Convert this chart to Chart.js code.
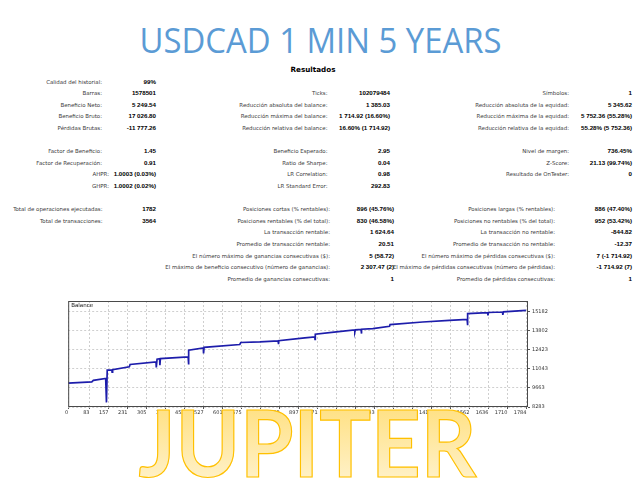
<!DOCTYPE html>
<html>
<head>
<meta charset="utf-8">
<script src="https://cdn.jsdelivr.net/npm/chart.js@4"></script>
<style>
  html, body { margin: 0; padding: 0; background: #fff; }
  #page { position: relative; width: 640px; height: 480px; overflow: hidden; }
  #base, #over { position: absolute; left: 0; top: 0; }
  #over { pointer-events: none; }
  #balance { position: absolute; left: 64px; top: 296px; }
</style>
</head>
<body>
<div id="page">
  <svg id="base" width="640" height="480"></svg>
  <canvas id="balance" width="500" height="124"></canvas>
  <svg id="over" width="640" height="480">
    <defs>
      <linearGradient id="jg" x1="0" y1="0" x2="0" y2="1">
        <stop offset="0" stop-color="#ffdc70"/>
        <stop offset="1" stop-color="#fff5d8"/>
      </linearGradient>
    </defs>
    <text x="307.5" y="477" text-anchor="middle" font-family="Lato" font-weight="700"
          font-size="92" textLength="338" lengthAdjust="spacingAndGlyphs"
          fill="url(#jg)" stroke="#ffc000" stroke-width="1.2">JUPITER</text>
  </svg>
</div>
<script>
// balance curve (deal number -> balance)
const dealNo = [0, 92, 98, 146, 149, 152, 170, 171, 173, 238, 241, 342, 343, 346, 356, 357, 359,
  467, 468, 470, 526, 527, 529, 668, 672, 746, 817, 818, 820, 921, 960, 961, 962, 1044,
  1115, 1116, 1118, 1140, 1141, 1143, 1186, 1251, 1253, 1380, 1484, 1553, 1554, 1556,
  1633, 1634, 1636, 1691, 1692, 1694, 1782];
const balance = [10000, 10100, 10200, 10345, 8616, 10942, 10960, 10800, 10975, 11180, 11350, 11540, 11136, 11732, 11760, 11300, 11770,
  11898, 11351, 12379, 12544, 12142, 12580, 12789, 12932, 12975, 13047, 12810, 13060, 13263, 13335, 13150, 13529, 13694,
  13838, 13700, 13850, 13870, 13579, 13890, 13938, 14104, 14226, 14413, 14535, 14607, 14176, 15016,
  15088, 14894, 15095, 15131, 14930, 15140, 15250];

const xTicks = [0, 83, 157, 231, 305, 379, 453, 527, 601, 675, 749, 823, 897, 971, 1045, 1119,
  1193, 1267, 1341, 1415, 1489, 1562, 1636, 1710, 1784];
const yTicks = [8283, 9663, 11043, 12423, 13802, 15182];
const seriesName = 'Balance';

// report table
const titleText = 'USDCAD 1 MIN 5 YEARS';
const reportTitle = 'Resultados';

const topLabelsA = ['Calidad del historial:', 'Barras:', 'Beneficio Neto:', 'Beneficio Bruto:', 'Pérdidas Brutas:', '',
  'Factor de Beneficio:', 'Factor de Recuperación:', 'AHPR:', 'GHPR:'];
const topValuesA = ['99%', '1578501', '5 249.54', '17 026.80', '-11 777.26', '',
  '1.45', '0.91', '1.0003 (0.03%)', '1.0002 (0.02%)'];
const topLabelsB = ['', 'Ticks:', 'Reducción absoluta del balance:', 'Reducción máxima del balance:', 'Reducción relativa del balance:', '',
  'Beneficio Esperado:', 'Ratio de Sharpe:', 'LR Correlation:', 'LR Standard Error:'];
const topValuesB = ['', '102079484', '1 385.03', '1 714.92 (16.60%)', '16.60% (1 714.92)', '',
  '2.95', '0.04', '0.98', '292.83'];
const topLabelsC = ['', 'Símbolos:', 'Reducción absoluta de la equidad:', 'Reducción máxima de la equidad:', 'Reducción relativa de la equidad:', '',
  'Nivel de margen:', 'Z-Score:', 'Resultado de OnTester:', ''];
const topValuesC = ['', '1', '5 345.62', '5 752.36 (55.28%)', '55.28% (5 752.36)', '',
  '736.45%', '21.13 (99.74%)', '0', ''];

const lowLabelsA = ['Total de operaciones ejecutadas:', 'Total de transacciones:', '', '', '', '', ''];
const lowValuesA = ['1782', '3564', '', '', '', '', ''];
const lowLabelsB = ['Posiciones cortas (% rentables):', 'Posiciones rentables (% del total):', 'La transacción rentable:',
  'Promedio de transacción rentable:', 'El número máximo de ganancias consecutivas ($):',
  'El máximo de beneficio consecutivo (número de ganancias):', 'Promedio de ganancias consecutivas:'];
const lowValuesB = ['896 (45.76%)', '830 (46.58%)', '1 624.64', '20.51', '5 (58.72)', '2 307.47 (2)', '1'];
const lowLabelsC = ['Posiciones largas (% rentables):', 'Posiciones no rentables (% del total):', 'La transacción no rentable:',
  'Promedio de transacción no rentable:', 'El número máximo de pérdidas consecutivas ($):',
  'El máximo de pérdidas consecutivas (número de pérdidas):', 'Promedio de pérdidas consecutivas:'];
const lowValuesC = ['886 (47.40%)', '952 (53.42%)', '-844.82', '-12.37', '7 (-1 714.92)', '-1 714.92 (7)', '1'];

// ---- draw the text page in SVG ----
const NS = 'http://www.w3.org/2000/svg';
const svg = document.getElementById('base');
function addText(str, x, y, attrs) {
  const t = document.createElementNS(NS, 'text');
  t.setAttribute('x', x);
  t.setAttribute('y', y);
  for (const k in attrs) t.setAttribute(k, attrs[k]);
  t.textContent = str;
  svg.appendChild(t);
  return t;
}

addText(titleText, 320.5, 52.7, {
  'text-anchor': 'middle', 'font-family': 'Open Sans', 'font-size': 34,
  fill: '#5b9bd5', textLength: 362, lengthAdjust: 'spacingAndGlyphs'
});
addText(reportTitle, 313, 72, {
  'text-anchor': 'middle', 'font-family': 'DejaVu Sans', 'font-weight': 'bold',
  'font-size': 7.2, fill: '#000'
});

const rowTop = 81.5, rowStep = 11.6;
const labelStyle = { 'text-anchor': 'end', 'font-family': 'DejaVu Sans', 'font-size': 5.45, fill: '#3a3a3a' };
const valueStyle = { 'text-anchor': 'end', 'font-family': 'Liberation Sans', 'font-weight': 'bold', 'font-size': 6.2, fill: '#000' };

function column(labels, values, firstRow, labelEnd, valueEnd, shift) {
  labels.forEach((lab, i) => {
    const y = rowTop + (firstRow + i) * rowStep + 2;
    const dx = (shift && shift[i]) || 0;
    if (lab) addText(lab, labelEnd + dx, y, labelStyle);
    if (values[i]) addText(values[i], valueEnd, y, valueStyle);
  });
}
column(topLabelsA, topValuesA, 0, 102, 156, { 8: 7, 9: 7 });
column(topLabelsB, topValuesB, 0, 327.5, 390);
column(topLabelsC, topValuesC, 0, 569, 632);
column(lowLabelsA, lowValuesA, 11, 102.5, 156);
column(lowLabelsB, lowValuesB, 11, 330, 394);
column(lowLabelsC, lowValuesC, 11, 555, 632);

// ---- balance chart ----
const framePlugin = {
  id: 'frame',
  afterDatasetsDraw(chart) {
    const { ctx, chartArea: a } = chart;
    ctx.save();
    ctx.strokeStyle = '#4a4a4a';
    ctx.lineWidth = 1;
    ctx.strokeRect(a.left + 0.5, a.top + 0.5, a.right - a.left - 1, a.bottom - a.top - 1);
    ctx.fillStyle = '#111';
    ctx.font = '5.5px "DejaVu Sans"';
    ctx.textBaseline = 'top';
    ctx.fillText(seriesName, a.left + 3, a.top + 2);
    ctx.restore();
  }
};

new Chart(document.getElementById('balance'), {
  type: 'line',
  data: {
    datasets: [{
      label: seriesName,
      data: dealNo.map((d, i) => ({ x: d, y: balance[i] })),
      borderColor: '#1d1dab',
      borderWidth: 1.7,
      pointRadius: 0,
      tension: 0,
      fill: false
    }]
  },
  options: {
    responsive: false,
    animation: false,
    layout: { padding: { left: 4, top: 4, right: 0, bottom: 0 } },
    plugins: { legend: { display: false }, tooltip: { enabled: false } },
    scales: {
      x: {
        type: 'linear',
        min: 0,
        max: 1790,
        afterBuildTicks: s => { s.ticks = xTicks.map(v => ({ value: v })); },
        afterFit: s => { s.height = 13; },
        grid: { color: '#cfcfcf', tickColor: '#555', tickLength: 2 },
        border: { display: false, dash: [2, 2] },
        ticks: {
          autoSkip: false, maxRotation: 0, align: 'end', padding: 1,
          color: '#333', font: { family: 'DejaVu Sans', size: 5 },
          callback: v => String(v)
        }
      },
      y: {
        position: 'right',
        min: 8283,
        max: 15925,
        afterBuildTicks: s => { s.ticks = yTicks.map(v => ({ value: v })); },
        afterFit: s => { s.width = 36; },
        grid: { color: '#cfcfcf', tickColor: '#555', tickLength: 2 },
        border: { display: false, dash: [2, 2] },
        ticks: {
          padding: 2, color: '#333', font: { family: 'DejaVu Sans', size: 5 },
          callback: v => String(v)
        }
      }
    }
  },
  plugins: [framePlugin]
});
</script>
</body>
</html>
